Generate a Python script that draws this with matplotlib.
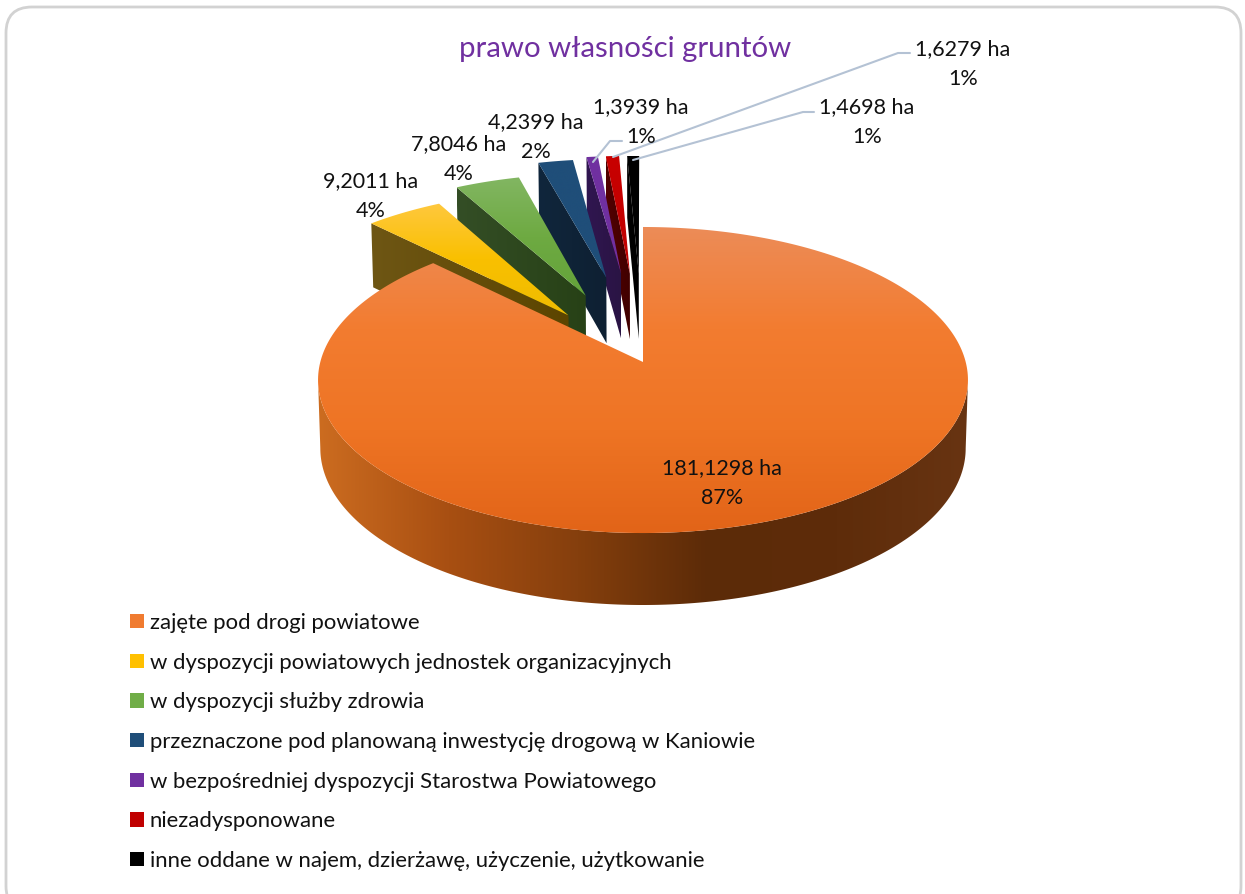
import numpy as np
import matplotlib
matplotlib.use("Agg")
import matplotlib.pyplot as plt
from matplotlib.colors import LinearSegmentedColormap
from matplotlib.patches import Polygon, Patch, FancyBboxPatch

plt.rcParams["font.family"] = ["Lato", "DejaVu Sans"]

# data
categories = ["zajęte pod drogi powiatowe",
              "w dyspozycji powiatowych jednostek organizacyjnych",
              "w dyspozycji służby zdrowia",
              "przeznaczone pod planowaną inwestycję drogową w Kaniowie",
              "w bezpośredniej dyspozycji Starostwa Powiatowego",
              "niezadysponowane",
              "inne oddane w najem, dzierżawę, użyczenie, użytkowanie"]
areas_ha = [181.1298, 9.2011, 7.8046, 4.2399, 1.3939, 1.6279, 1.4698]
percent_labels = ["87%", "4%", "4%", "2%", "1%", "1%", "1%"]

# styling
explode = [0, 0.40, 0.50, 0.61, 0.63, 0.63, 0.63]
legend_colors = ["#F07B30", "#FFC000", "#70AD47", "#1F4E79", "#7030A0", "#C00000", "#000000"]
top_colors = [["#EC8C58", "#F37C30", "#EE7424", "#E26418"],
              ["#FFC83E", "#F9C000", "#EFBC00"],
              ["#82B662", "#6EAA42", "#64A33A"],
              ["#1F4E79", "#1F4E79"],
              ["#7030A0", "#7030A0"],
              ["#C80000", "#C00000"],
              ["#000000", "#000000"]]
wall_colors = [["#CC6C20", "#A84F12", "#853F0D", "#5C2B08", "#5E2C0A", "#683412"],
               ["#6E5614", "#5C4500"],
               ["#344E26", "#274116"],
               ["#10263C", "#0E2032"],
               ["#301650", "#2A1444"],
               ["#520000", "#400000"],
               ["#000000", "#000000"]]
label_pos = [(722, 483), (371, 196), (459, 159.5), (536, 137.5), (641, 122.5), (963, 64.5), (867, 122.5)]
leaders = {4: [(593, 162), (610, 141), (622, 141)],
           5: [(613, 157), (898, 53), (910, 53)],
           6: [(633, 160), (803, 112), (814, 112)]}

# perspective of the pie, fitted on the picture
cx, cy = 643, 362
A, B, p = 150.9, 322.7, 0.1177
depth, q = 67.8, 0.058


def proj(u, v, low=False):
    u = np.asarray(u, dtype=float)
    v = np.asarray(v, dtype=float)
    s = 1 + p * v
    x = cx + B * u / s
    y = cy - A * v / s
    if low:
        x = cx + (x - cx) * 0.993
        y = y + depth / (1 + q * v)
    return np.column_stack([x, y])


def grad_fill(ax, pts, colors, vertical=True, zorder=1):
    # gradient image clipped to the polygon
    cmap = LinearSegmentedColormap.from_list("g", colors)
    g = np.linspace(0, 1, 256)
    g = g[:, None] if vertical else g[None, :]
    x0, y0 = pts.min(axis=0)
    x1, y1 = pts.max(axis=0)
    im = ax.imshow(g, cmap=cmap, extent=(x0, x1, y1, y0), aspect="auto",
                   zorder=zorder, interpolation="bilinear")
    im.set_clip_path(Polygon(pts, closed=True, transform=ax.transData))


fig = plt.figure(figsize=(12.45, 8.94), dpi=100)
ax = fig.add_axes([0, 0, 1, 1])

ax.add_patch(FancyBboxPatch((6, 7), 1235, 905, boxstyle="round,pad=0,rounding_size=26",
                            fc="white", ec="#D2D2D2", lw=2, zorder=0))

# angles clockwise from 12 o'clock, from the values
vals = np.array(areas_ha)
edges = np.concatenate([[0], np.cumsum(vals) / vals.sum() * 2 * np.pi])

# back to front, main slice last
z = 2
for i in range(len(vals) - 1, -1, -1):
    a0, a1 = edges[i], edges[i + 1]
    mid = (a0 + a1) / 2
    du, dv = explode[i] * np.sin(mid), explode[i] * np.cos(mid)
    t = np.linspace(a0, a1, 300)
    arc_u, arc_v = du + np.sin(t), dv + np.cos(t)
    apex = proj([du], [dv])
    apex_low = proj([du], [dv], low=True)
    if i == 0:
        # outer wall of the big slice, between the two silhouette points
        sil = np.arccos(-p)
        tw = np.linspace(sil, 2 * np.pi - sil, 300)
        w = np.vstack([proj(np.sin(tw), np.cos(tw)),
                       proj(np.sin(tw), np.cos(tw), low=True)[::-1]])
        grad_fill(ax, w, wall_colors[i], vertical=False, zorder=z)
    else:
        # left radial face
        outer = proj([arc_u[0]], [arc_v[0]])
        outer_low = proj([arc_u[0]], [arc_v[0]], low=True)
        w = np.vstack([apex, outer, outer_low, apex_low])
        grad_fill(ax, w, wall_colors[i], vertical=False, zorder=z)
    z += 1
    top = np.vstack([apex, proj(arc_u, arc_v)])
    grad_fill(ax, top, top_colors[i], vertical=True, zorder=z)
    z += 1

# leader lines
for i, pts in leaders.items():
    xs, ys = zip(*pts)
    ax.plot(xs, ys, color="#B4C2D4", lw=1.5, zorder=z, solid_capstyle="round")

# value labels
for i in range(len(vals)):
    txt = f"{vals[i]:.4f}".replace(".", ",") + " ha\n" + percent_labels[i]
    ax.text(label_pos[i][0], label_pos[i][1], txt, ha="center", va="center",
            fontsize=15.5, color="#111111", linespacing=1.62, zorder=z + 1)

ax.text(625, 49, "prawo własności gruntów", ha="center", va="center",
        fontsize=21.2, color="#7030A0", zorder=z + 1)

handles = [Patch(fc=c, ec="none") for c in legend_colors]
leg = ax.legend(handles, categories, loc="upper left", bbox_to_anchor=(130, 613),
                bbox_transform=ax.transData, frameon=False, fontsize=15.9, borderpad=0,
                borderaxespad=0, handlelength=0.63, handleheight=0.63, handletextpad=0.27,
                labelspacing=0.89, labelcolor="#111111")

ax.set_xlim(0, 1245)
ax.set_ylim(894, 0)
ax.axis("off")

fig.savefig("out.png", dpi=100)
